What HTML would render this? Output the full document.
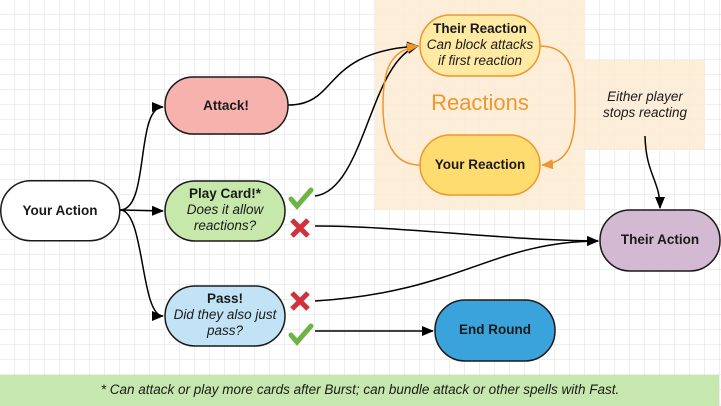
<!DOCTYPE html>
<html><head><meta charset="utf-8"><style>
html,body{margin:0;padding:0;background:#fff}
svg{display:block}
text{font-family:"Liberation Sans",Arial,sans-serif;fill:#1a1a1a}
.b{font-weight:bold;font-size:13.5px}
.i{font-style:italic;font-size:13.5px}
</style></head><body>
<svg width="721" height="406" viewBox="0 0 721 406" xmlns="http://www.w3.org/2000/svg">
<defs>
<pattern id="g" width="15" height="15" patternUnits="userSpaceOnUse">
<path d="M15 0V15M0 15H15" fill="none" stroke="#dcdcdc" stroke-width="1"/>
</pattern>
<marker id="a" markerWidth="12" markerHeight="10" refX="11" refY="5" orient="auto" markerUnits="userSpaceOnUse"><path d="M0 0L12 5L0 10z" fill="#000"/></marker>
<marker id="o" markerWidth="12" markerHeight="10" refX="11" refY="5" orient="auto" markerUnits="userSpaceOnUse"><path d="M0 0L12 5L0 10z" fill="#f0962d"/></marker>
</defs>
<rect width="721" height="406" fill="url(#g)"/>
<rect x="375" y="0" width="210" height="210" fill="#fdebd3" opacity="0.85"/>
<rect x="585" y="60" width="120" height="90" fill="#fdebd3" opacity="0.85"/>
<rect x="0" y="375" width="719" height="31" fill="#c6e7ae"/>

<g fill="none" stroke="#000" stroke-width="1.5">
<path d="M120 210C150 210 135 107 163 107" marker-end="url(#a)"/>
<path d="M120 210L163 211" marker-end="url(#a)"/>
<path d="M120 210C145 210 140 316 163 316" marker-end="url(#a)"/>
<path d="M288 105C340 105 320 52 418 46" marker-end="url(#a)"/>
<path d="M315 196C365 190 370 60 418 46" marker-end="url(#a)"/>
<path d="M315 226C400 226 500 240 598 241" marker-end="url(#a)"/>
<path d="M315 301C460 292 490 242 598 241" marker-end="url(#a)"/>
<path d="M315 331L433 331" marker-end="url(#a)"/>
<path d="M645 136C646 175 660 180 660 208" marker-end="url(#a)"/>
</g>
<g fill="none" stroke="#f0962d" stroke-width="1.5">
<path d="M540 46C575 46 575 80 575 110C575 140 570 163 542 165" marker-end="url(#o)"/>
<path d="M420 165C390 165 383 135 383 105C383 70 390 50 418 46" marker-end="url(#o)"/>
</g>

<g stroke="#1a1a1a" stroke-width="1.5">
<rect x="0.75" y="180.75" width="119" height="60" rx="30" fill="#fff"/>
<rect x="165" y="77" width="123" height="57" rx="28" fill="#f7b2ae"/>
<rect x="165" y="181" width="120" height="60" rx="30" fill="#c6e8aa"/>
<rect x="165" y="286" width="120" height="60" rx="30" fill="#c2e3f6"/>
<rect x="600" y="210" width="120" height="61" rx="30" fill="#d3bad2"/>
<rect x="435" y="300" width="120" height="61" rx="30" fill="#3ba3dc"/>
</g>
<g stroke="#f0962d" stroke-width="1.5">
<rect x="420" y="15" width="120" height="61" rx="30" fill="#ffeaa4"/>
<rect x="420" y="135" width="120" height="60" rx="30" fill="#ffdc70"/>
</g>

<text class="b" x="60" y="215" text-anchor="middle">Your Action</text>
<text class="b" x="226" y="110" text-anchor="middle">Attack!</text>
<text class="b" x="225" y="198" text-anchor="middle">Play Card!*</text>
<text class="i" x="225" y="214" text-anchor="middle">Does it allow</text>
<text class="i" x="225" y="230" text-anchor="middle">reactions?</text>
<text class="b" x="225" y="303" text-anchor="middle">Pass!</text>
<text class="i" x="225" y="319" text-anchor="middle">Did they also just</text>
<text class="i" x="225" y="335" text-anchor="middle">pass?</text>
<text class="b" x="480" y="33" text-anchor="middle">Their Reaction</text>
<text class="i" x="480" y="49" text-anchor="middle">Can block attacks</text>
<text class="i" x="480" y="65" text-anchor="middle">if first reaction</text>
<text class="b" x="480" y="169" text-anchor="middle">Your Reaction</text>
<text x="480" y="110" text-anchor="middle" font-size="22" style="fill:#f0962d">Reactions</text>
<text class="i" x="645" y="101" text-anchor="middle">Either player</text>
<text class="i" x="645" y="117" text-anchor="middle">stops reacting</text>
<text class="b" x="660" y="244" text-anchor="middle">Their Action</text>
<text class="b" x="495" y="334" text-anchor="middle">End Round</text>
<text class="i" x="360" y="394" text-anchor="middle">* Can attack or play more cards after Burst; can bundle attack or other spells with Fast.</text>

<g stroke="#6cb443" stroke-width="5" fill="none" stroke-linecap="round">
<path d="M291 199L297 206L311 190"/>
<path d="M291 335L297 342L311 326"/>
</g>
<g stroke="#d2303a" stroke-width="5" stroke-linecap="butt">
<path d="M292 220L308 236M308 220L292 236"/>
<path d="M292 293L308 309M308 293L292 309"/>
</g>
</svg>
</body></html>
